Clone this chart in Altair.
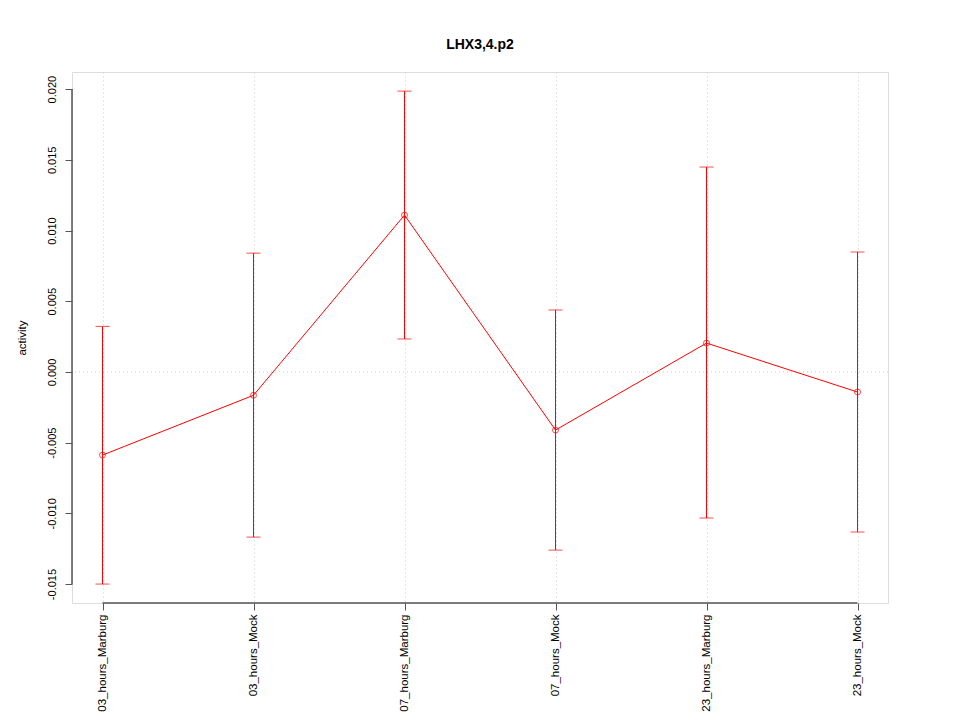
import altair as alt
import pandas as pd

categories = ["03_hours_Marburg", "03_hours_Mock", "07_hours_Marburg",
              "07_hours_Mock", "23_hours_Marburg", "23_hours_Mock"]
activity = [-0.00588, -0.00165, 0.01109, -0.00411, 0.00204, -0.00142]
upper = [0.00322, 0.00840, 0.01986, 0.00438, 0.01449, 0.00848]
lower = [-0.01500, -0.01168, 0.00233, -0.01260, -0.01033, -0.01132]
y_ticks = [-0.015, -0.010, -0.005, 0.000, 0.005, 0.010, 0.015, 0.020]

df = pd.DataFrame({"cat": categories, "activity": activity, "upper": upper, "lower": lower})

FONT = "Liberation Sans"
RED = "#ff0000"
W, H = 816, 531

xscale = alt.Scale(type="point", domain=categories, padding=30.5 / 151)
yscale = alt.Scale(domain=[-0.01634, 0.02121], nice=False, zero=False)

x_enc = alt.X("cat:N", scale=xscale, sort=categories, title=None,
              axis=alt.Axis(labelAngle=-90, labelAlign="right", labelBaseline="middle",
                            labelFontSize=11.5, labelFont=FONT, labelColor="#000",
                            tickSize=7, tickColor="#555", labelPadding=4,
                            domain=False, grid=True, gridColor="#cccccc",
                            gridDash=[1, 3]))
y_enc = alt.Y("activity:Q", scale=yscale, title="activity",
              axis=alt.Axis(values=y_ticks,
                            labelExpr="replace(format(datum.value, '.3f'), '\u2212', '-')",
                            labelAngle=-90,
                            labelAlign="center", labelBaseline="bottom",
                            labelFontSize=11, labelFont=FONT, labelColor="#000",
                            tickSize=7, tickColor="#555", labelPadding=8,
                            domain=False, grid=False,
                            titleFont=FONT, titleFontSize=11.5, titleFontWeight="normal",
                            titleColor="#000", titlePadding=19))

base = alt.Chart(df)

yaxis_df = pd.DataFrame({"y1": [y_ticks[0]], "y2": [y_ticks[-1]]})
yaxis_line = alt.Chart(yaxis_df).mark_rule(color="#555", strokeWidth=1.5).encode(
    x=alt.value(0), y=alt.Y("y1:Q", scale=yscale), y2="y2:Q")

xaxis_df = pd.DataFrame({"x1": [categories[0]], "x2": [categories[-1]]})
xaxis_line = alt.Chart(xaxis_df).mark_rule(color="#555", strokeWidth=1.5).encode(
    y=alt.value(H), x=alt.X("x1:N", scale=xscale, sort=categories), x2="x2:N")

zero_df = pd.DataFrame({"z": [0.0]})
zero_line = alt.Chart(zero_df).mark_rule(color="#cccccc", strokeDash=[1, 3]).encode(
    y=alt.Y("z:Q", scale=yscale))

bars = base.mark_rule(color=RED, strokeWidth=1).encode(
    x=x_enc, y=alt.Y("lower:Q", scale=yscale), y2="upper:Q")
cap_hi = base.mark_tick(color=RED, size=14, thickness=1, orient="horizontal").encode(
    x=alt.X("cat:N", scale=xscale, sort=categories), y=alt.Y("upper:Q", scale=yscale))
cap_lo = base.mark_tick(color=RED, size=14, thickness=1, orient="horizontal").encode(
    x=alt.X("cat:N", scale=xscale, sort=categories), y=alt.Y("lower:Q", scale=yscale))
line = base.mark_line(color=RED, strokeWidth=1).encode(
    x=alt.X("cat:N", scale=xscale, sort=categories), y=y_enc)
pts = base.mark_point(color=RED, filled=False, size=36, strokeWidth=1, shape="circle").encode(
    x=alt.X("cat:N", scale=xscale, sort=categories), y=alt.Y("activity:Q", scale=yscale))

chart = alt.layer(zero_line, bars, cap_hi, cap_lo, line, pts, yaxis_line, xaxis_line).properties(
    width=W, height=H,
    title=alt.TitleParams("LHX3,4.p2", font=FONT, fontSize=14, fontWeight="bold",
                          color="#000", anchor="middle", offset=20),
    autosize=alt.AutoSizeParams(type="none"),
    padding={"left": 64, "top": 64, "right": 64, "bottom": 109},
).configure_view(stroke="#999999", strokeWidth=1.5).configure(background="white")

chart.save("out.html", embed_options={"renderer": "svg", "actions": False})
